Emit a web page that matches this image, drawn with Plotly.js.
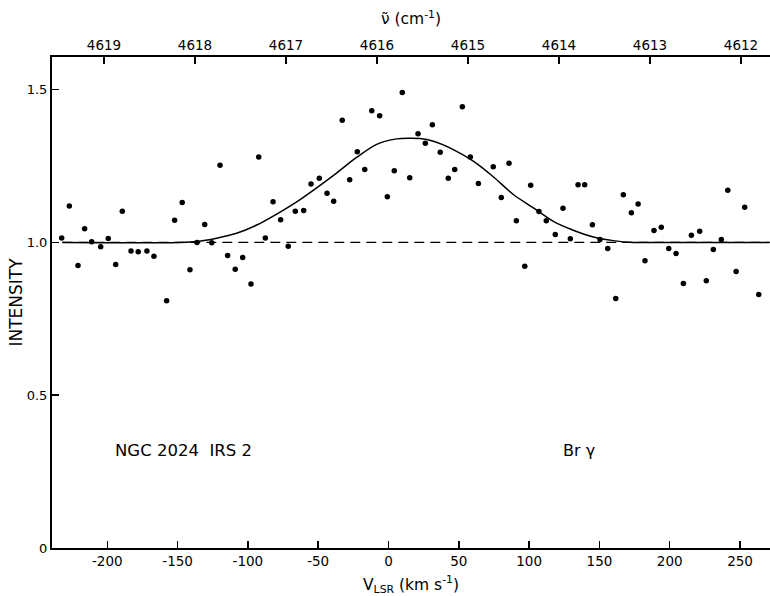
<!DOCTYPE html>
<html>
<head>
<meta charset="utf-8">
<script src="https://cdn.plot.ly/plotly-3.0.1.min.js"></script>
<style>html,body{margin:0;padding:0;background:#fff;}#chart{width:770px;height:596px;}</style>
</head>
<body>
<div id="chart"></div>
<script>
// Observed points: V_LSR (km/s) and relative intensity
var vLsr = [-232.4,-227.0,-220.8,-216.1,-211.1,-204.7,-199.3,-194.0,-189.3,-183.1,-178.0,-171.8,-166.8,-157.8,-152.1,-146.7,-141.2,-136.2,-130.7,-125.7,-119.8,-114.4,-109.0,-103.7,-97.8,-92.3,-87.6,-82.1,-76.7,-71.3,-66.3,-60.3,-55.1,-49.2,-43.7,-39.0,-32.9,-27.6,-22.2,-16.9,-11.9,-6.3,-0.85,4.1,9.8,15.1,21.0,26.2,31.2,36.8,42.5,47.1,52.5,58.2,63.9,74.5,80.2,85.7,90.9,96.9,101.1,107.0,112.2,118.6,124.1,129.3,134.8,139.5,145.0,150.4,155.9,161.6,167.0,172.7,177.5,182.4,188.8,194.0,199.3,204.5,209.7,215.4,221.3,226.0,231.0,236.7,241.3,247.2,253.3,263.3];
var intensity = [1.015,1.119,0.925,1.045,1.002,0.986,1.013,0.928,1.102,0.972,0.970,0.972,0.955,0.809,1.073,1.131,0.911,1.000,1.059,0.999,1.253,0.957,0.912,0.951,0.864,1.280,1.015,1.133,1.074,0.988,1.102,1.105,1.191,1.210,1.161,1.135,1.400,1.205,1.297,1.239,1.431,1.415,1.150,1.235,1.491,1.212,1.356,1.325,1.385,1.295,1.210,1.239,1.444,1.280,1.193,1.248,1.147,1.259,1.071,0.922,1.187,1.101,1.071,1.026,1.112,1.012,1.189,1.189,1.058,1.010,0.980,0.817,1.156,1.097,1.126,0.940,1.039,1.050,0.980,0.964,0.866,1.024,1.037,0.875,0.977,1.010,1.171,0.905,1.115,0.830];

// Fitted profile
var fitV = [-232,-148,-136.4,-122.2,-108,-93.7,-79.5,-65.3,-51.1,-36.7,-22.5,-8.4,5.8,15.1,22.4,31.9,46.1,60.3,74.5,88.8,103,117.2,131.4,145.7,159.9,174.1,190,271];
var fitI = [1.0,1.0,1.003,1.014,1.030,1.057,1.093,1.133,1.179,1.228,1.279,1.321,1.339,1.341,1.340,1.331,1.304,1.266,1.215,1.157,1.113,1.069,1.040,1.018,1.006,1.0,1.0,1.0];

// Continuum level (dashed)
var contV = [-232, 271];
var contI = [1.0, 1.0];

// Tick labels
var xTicks = [-200,-150,-100,-50,0,50,100,150,200,250];
var xTickText = ["-200","-150","-100","-50","0","50","100","150","200","250"];
var yTicks = [0,0.5,1.0,1.5];
var yTickText = ["0","0.5","1.0","1.5"];
var wnTicks = [4619,4618,4617,4616,4615,4614,4613,4612];
var wnTickText = ["4619","4618","4617","4616","4615","4614","4613","4612"];

var font = "DejaVu Sans, Liberation Sans, sans-serif";

var traces = [
  {x: contV, y: contI, mode: 'lines', line: {color: '#000', width: 1.3, dash: '10px,6px'}, hoverinfo: 'skip', showlegend: false},
  {x: fitV, y: fitI, mode: 'lines', line: {color: '#000', width: 1.5, shape: 'spline', smoothing: 0.8}, hoverinfo: 'skip', showlegend: false},
  {x: vLsr, y: intensity, mode: 'markers', marker: {color: '#000', size: 5.5}, showlegend: false},
  {x: wnTicks, y: wnTicks.map(function(){return 1.0;}), xaxis: 'x2', mode: 'markers', marker: {opacity: 0}, hoverinfo: 'skip', showlegend: false}
];

var layout = {
  width: 770, height: 596,
  margin: {l: 52, r: 0, t: 57, b: 48},
  paper_bgcolor: '#fff', plot_bgcolor: '#fff',
  font: {family: font, color: '#000', size: 12},
  xaxis: {
    range: [-239.3, 271.3], showgrid: false, zeroline: false,
    showline: true, linecolor: '#000', linewidth: 2,
    ticks: 'inside', ticklen: 7, tickwidth: 1.5, tickcolor: '#000',
    tickmode: 'array', tickvals: xTicks, ticktext: xTickText,
    tickfont: {size: 13.5, family: font},
    title: {text: 'V<sub>LSR</sub> (km s<sup>-1</sup>)', font: {size: 15.5, family: font}, standoff: 14}
  },
  xaxis2: {
    overlaying: 'x', side: 'top',
    range: [4619.571, 4611.681], showgrid: false, zeroline: false,
    showline: true, linecolor: '#000', linewidth: 2,
    ticks: 'inside', ticklen: 7, tickwidth: 1.5, tickcolor: '#000',
    tickmode: 'array', tickvals: wnTicks, ticktext: wnTickText,
    tickfont: {size: 13.5, family: font},
    title: {text: 'ν\u0303 (cm<sup>-1</sup>)', font: {size: 15.5, family: font}, standoff: 8}
  },
  yaxis: {
    range: [0, 1.607], showgrid: false, zeroline: false,
    showline: true, linecolor: '#000', linewidth: 2,
    ticks: 'inside', ticklen: 7, tickwidth: 1.5, tickcolor: '#000',
    tickmode: 'array', tickvals: yTicks, ticktext: yTickText,
    tickfont: {size: 13, family: font},
    title: {text: 'INTENSITY', font: {size: 17, family: font}, standoff: 0}
  },
  annotations: [
    {x: -196, y: 0.32, xref: 'x', yref: 'y', xanchor: 'left', yanchor: 'middle', showarrow: false,
     text: 'NGC 2024\u00a0\u00a0IRS 2', font: {size: 16.5, family: font}},
    {x: 122.7, y: 0.32, xref: 'x', yref: 'y', xanchor: 'left', yanchor: 'middle', showarrow: false,
     text: 'Br \u03b3', font: {size: 16, family: font}}
  ]
};

Plotly.newPlot('chart', traces, layout, {displayModeBar: false, staticPlot: true});
</script>
</body>
</html>
